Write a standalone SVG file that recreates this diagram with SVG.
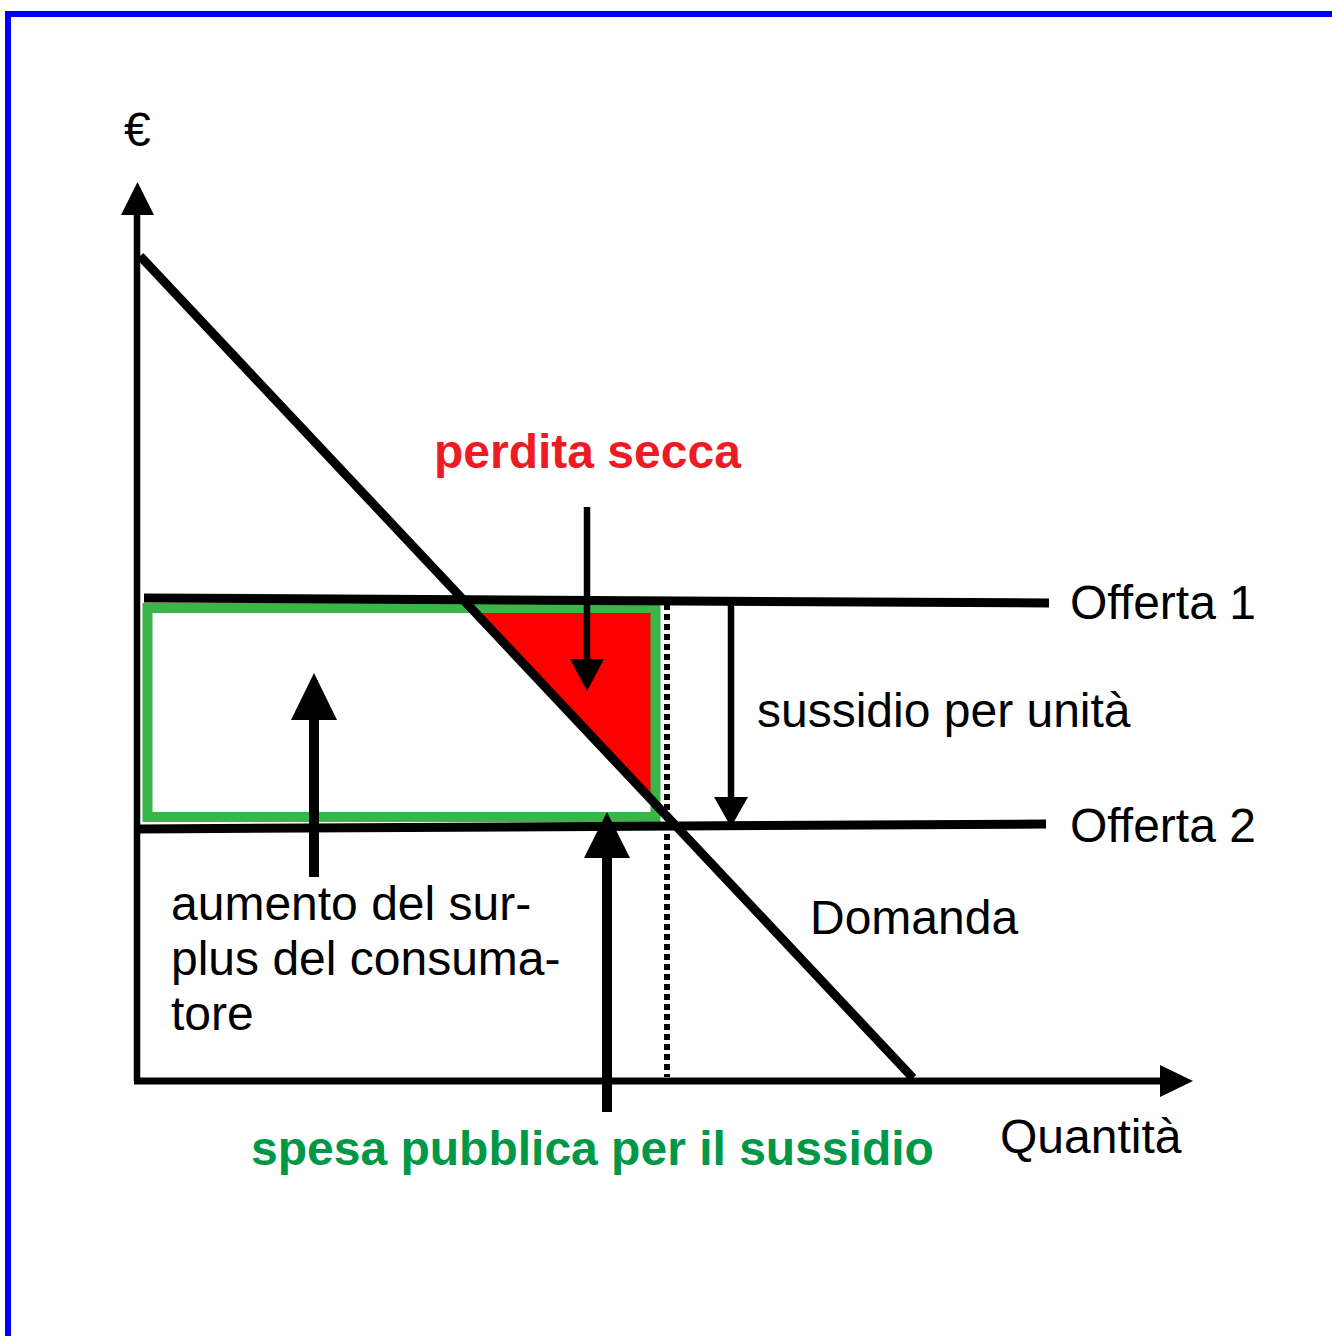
<svg xmlns="http://www.w3.org/2000/svg" width="1332" height="1336" viewBox="0 0 1332 1336">
<style>
text{font-family:"Liberation Sans",Arial,sans-serif;font-size:48px;fill:#000}
.b{font-weight:bold}
.red{fill:#ED1C24}
.grn{fill:#009846}
.ln{stroke:#000;fill:none}
</style>
<rect x="0" y="0" width="1332" height="1336" fill="#fff"/>
<rect x="8" y="14" width="1400" height="1400" fill="none" stroke="#0000FF" stroke-width="6"/>
<g id="areas">
<polygon id="perdita-area" points="474,613 651,613 651,800" fill="#FF0000"/>
<rect id="spesa-area" x="147.5" y="608" width="508" height="209" fill="none" stroke="#39B54A" stroke-width="10"/>
</g>
<g id="connectors">
<line class="ln" x1="137" y1="1081" x2="137" y2="212" stroke-width="6.5"/>
<polygon points="121,215 154,215 137.5,182" fill="#000"/>
<line class="ln" x1="134" y1="1081" x2="1162" y2="1081" stroke-width="7"/>
<polygon points="1160,1065 1160,1097 1193,1081" fill="#000"/>
<line class="ln" x1="667" y1="604" x2="667" y2="1077" stroke-width="6" stroke-dasharray="6 4"/>
<line id="offerta1" class="ln" x1="144" y1="598" x2="1049" y2="603" stroke-width="9"/>
<line id="offerta2" class="ln" x1="140" y1="829" x2="1046" y2="824" stroke-width="9"/>
<line id="domanda" class="ln" x1="140" y1="256" x2="913" y2="1078" stroke-width="9"/>
<line class="ln" x1="587" y1="507" x2="587" y2="662" stroke-width="6.5"/>
<polygon points="570,659 604,659 587,691" fill="#000"/>
<line class="ln" x1="731" y1="603" x2="731" y2="800" stroke-width="6.5"/>
<polygon points="714,797 748,797 731,827" fill="#000"/>
<line class="ln" x1="314" y1="877" x2="314" y2="716" stroke-width="10"/>
<polygon points="291,720 337,720 314,673" fill="#000"/>
<line class="ln" x1="607" y1="1112" x2="607" y2="854" stroke-width="10"/>
<polygon points="584,858 630,858 607,812" fill="#000"/>
</g>
<g id="labels">
<text id="euro" x="124" y="146">€</text>
<text class="b red" x="434" y="468">perdita secca</text>
<text x="1070" y="619">Offerta 1</text>
<text x="757" y="727">sussidio per unità</text>
<text x="1070" y="842">Offerta 2</text>
<text x="810" y="934">Domanda</text>
<text x="171" y="920">aumento del sur-</text>
<text x="171" y="975">plus del consuma-</text>
<text x="171" y="1030">tore</text>
<text class="b grn" x="251" y="1165">spesa pubblica per il sussidio</text>
<text x="1000" y="1153">Quantità</text>
</g>
</svg>
